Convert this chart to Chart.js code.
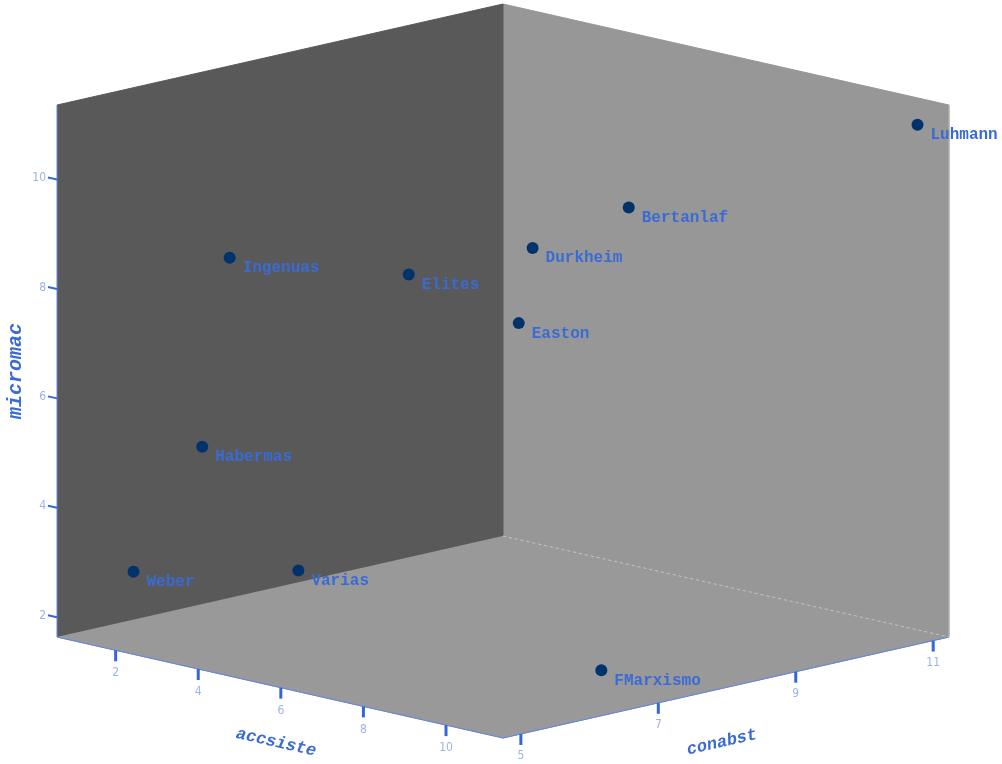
<html>
<head>
  <script src="https://cdn.jsdelivr.net/npm/chart.js@4.4.0/dist/chart.umd.min.js"></script>
</head>

<body style="padding: 0; margin: 0; background: #fff;">

<div style="width: 1002px; height: 764px; position: relative;">
  <canvas id="chart"></canvas>
</div>

<script>
  const names    = ['Weber', 'Varias', 'FMarxismo', 'Habermas', 'Ingenuas', 'Elites', 'Easton', 'Durkheim', 'Bertanlaf', 'Luhmann']
  const accsiste = [2, 1, 10, 2, 1, 7, 8, 10, 9, 11]
  const conabst  = [5, 8, 7, 6, 7, 6, 7, 6, 8, 11]
  const micromac = [3, 2, 2, 5, 8, 9, 8, 10, 10, 11]

  const accTicks = [2, 4, 6, 8, 10]
  const conTicks = [5, 7, 9, 11]
  const micTicks = [2, 4, 6, 8, 10]

  // axis ranges, with the usual autorange padding
  const range = {a: [0.58, 11.38], c: [4.74, 11.23], z: [1.64, 11.36]}

  // orthographic camera: where the (min,min,min) corner lands and the screen vector of each full axis
  const view = {ox: 57, oy: 637, a: [446, 101], c: [446, -101], z: [0, -532]}

  const project = (a, c, z) => {
    const ua = (a - range.a[0]) / (range.a[1] - range.a[0])
    const uc = (c - range.c[0]) / (range.c[1] - range.c[0])
    const uz = (z - range.z[0]) / (range.z[1] - range.z[0])
    return {
      x: view.ox + ua * view.a[0] + uc * view.c[0] + uz * view.z[0],
      y: view.oy + ua * view.a[1] + uc * view.c[1] + uz * view.z[1],
    }
  }

  const [a0, a1] = range.a
  const [c0, c1] = range.c
  const [z0, z1] = range.z

  const face = (corners, color) => ({
    data: corners.map(p => project(...p)),
    showLine: true,
    fill: 'shape',
    backgroundColor: color,
    borderColor: color,
    borderWidth: 1,
    pointRadius: 0,
    order: 10,
    clip: false,
  })

  const edge = (from, to, color, dash) => ({
    data: [project(...from), project(...to)],
    showLine: true,
    fill: false,
    borderColor: color,
    borderWidth: 1,
    borderDash: dash || [],
    pointRadius: 0,
    order: 5,
    clip: false,
  })

  const blue = '#3a6bd4'
  const tickBlue = '#3366d6'
  const tickText = '#9db2ea'

  const labelsPlugin = {
    id: 'labels3d',
    afterDatasetsDraw(chart) {
      const ctx = chart.ctx
      const xs = chart.scales.x
      const ys = chart.scales.y
      const px = p => ({x: xs.getPixelForValue(p.x), y: ys.getPixelForValue(p.y)})

      ctx.save()

      // tick marks
      ctx.strokeStyle = tickBlue
      ctx.lineWidth = 3
      accTicks.forEach(t => {
        const p = px(project(t, c0, z0))
        ctx.beginPath(); ctx.moveTo(p.x, p.y); ctx.lineTo(p.x, p.y + 11); ctx.stroke()
      })
      conTicks.forEach(t => {
        const p = px(project(a1, t, z0))
        ctx.beginPath(); ctx.moveTo(p.x, p.y); ctx.lineTo(p.x, p.y + 11); ctx.stroke()
      })
      ctx.lineWidth = 2
      micTicks.forEach(t => {
        const p = px(project(a0, c0, t))
        ctx.beginPath(); ctx.moveTo(p.x, p.y); ctx.lineTo(p.x - 9, p.y - 2); ctx.stroke()
      })

      // tick labels
      ctx.fillStyle = tickText
      ctx.font = '12px "Liberation Sans Narrow", "DejaVu Sans Condensed", sans-serif'
      ctx.textAlign = 'center'
      ctx.textBaseline = 'middle'
      accTicks.forEach(t => {
        const p = px(project(t, c0, z0))
        ctx.fillText(t, p.x, p.y + 23)
      })
      conTicks.forEach(t => {
        const p = px(project(a1, t, z0))
        ctx.fillText(t, p.x, p.y + 22)
      })
      ctx.textAlign = 'right'
      micTicks.forEach(t => {
        const p = px(project(a0, c0, t))
        ctx.fillText(t, p.x - 11, p.y - 1.5)
      })

      // axis titles
      const slope = Math.atan2(view.a[1], view.a[0])
      ctx.fillStyle = blue
      ctx.textAlign = 'center'
      ctx.font = 'italic bold 17px "Courier New", "Liberation Mono", monospace'
      let p = px(project((a0 + a1) / 2, c0, z0))
      ctx.save(); ctx.translate(p.x - 4, p.y + 55); ctx.rotate(slope); ctx.fillText('accsiste', 0, 0); ctx.restore()
      p = px(project(a1, (c0 + c1) / 2, z0))
      ctx.save(); ctx.translate(p.x - 4, p.y + 55); ctx.rotate(-slope); ctx.fillText('conabst', 0, 0); ctx.restore()
      ctx.font = 'italic bold 20px "Courier New", "Liberation Mono", monospace'
      p = px(project(a0, c0, (z0 + z1) / 2))
      ctx.save(); ctx.translate(p.x - 41, p.y); ctx.rotate(-Math.PI / 2); ctx.fillText('micromac', 0, 0); ctx.restore()

      // point labels, bottom right of each marker
      ctx.font = 'bold 16px "Courier New", "Liberation Mono", monospace'
      ctx.textAlign = 'left'
      ctx.textBaseline = 'alphabetic'
      const meta = chart.getDatasetMeta(chart.data.datasets.length - 1)
      meta.data.forEach((el, i) => ctx.fillText(names[i], el.x + 13, el.y + 14.5))

      ctx.restore()
    }
  }

  const datasets = [
    face([[a0, c0, z0], [a1, c0, z0], [a1, c1, z0], [a0, c1, z0]], '#999999'),
    face([[a0, c0, z0], [a0, c1, z0], [a0, c1, z1], [a0, c0, z1]], '#595959'),
    face([[a0, c1, z0], [a1, c1, z0], [a1, c1, z1], [a0, c1, z1]], '#979797'),
    edge([a0, c1, z0], [a1, c1, z0], '#c4c4c4', [3, 3]),
    edge([a1, c1, z0], [a1, c1, z1], '#b8b8b8'),
    edge([a0, c0, z0], [a1, c0, z0], '#5f86de'),
    edge([a1, c0, z0], [a1, c1, z0], '#5f86de'),
    edge([a0, c0, z0], [a0, c0, z1], '#5f86de'),
    {
      data: names.map((n, i) => project(accsiste[i], conabst[i], micromac[i])),
      showLine: false,
      pointRadius: 6,
      pointHoverRadius: 6,
      pointBackgroundColor: '#00336b',
      pointBorderWidth: 0,
      order: 0,
      clip: false,
    },
  ]

  new Chart(document.getElementById('chart').getContext('2d'), {
    type: 'scatter',
    data: {datasets},
    options: {
      responsive: true,
      maintainAspectRatio: false,
      animation: false,
      events: [],
      layout: {padding: 0, autoPadding: false},
      scales: {
        x: {type: 'linear', min: 0, max: 1002, display: false},
        y: {type: 'linear', min: 0, max: 764, reverse: true, display: false},
      },
      plugins: {
        legend: {display: false},
        tooltip: {enabled: false},
      },
    },
    plugins: [labelsPlugin],
  })
</script>
</body>
</html>
